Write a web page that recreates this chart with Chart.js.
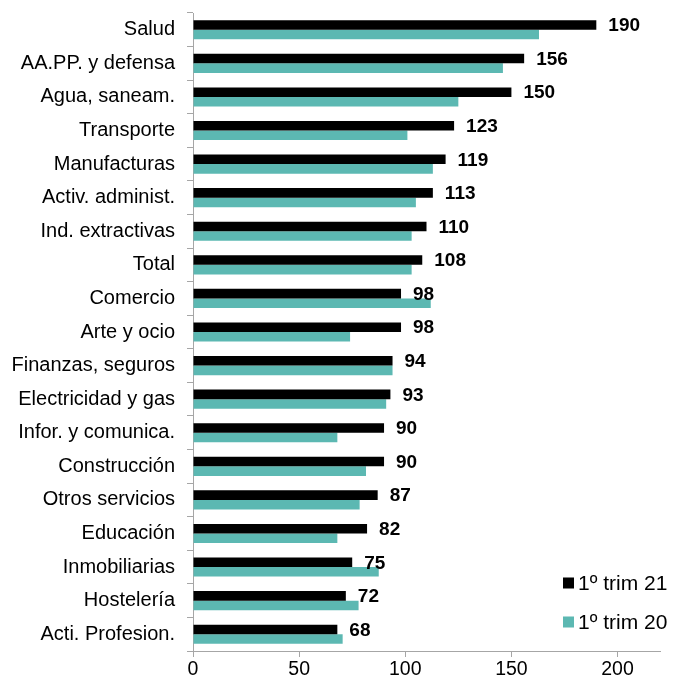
<!DOCTYPE html>
<html>
<head>
<meta charset="utf-8">
<script src="https://cdn.jsdelivr.net/npm/chart.js@4/dist/chart.umd.min.js"></script>
<style>
  html, body { margin: 0; padding: 0; background: #fff; }
  #wrap { width: 675px; height: 682px; }
</style>
</head>
<body>
<div id="wrap"><canvas id="c" width="675" height="682"></canvas></div>
<script>
const categories = ["Salud","AA.PP. y defensa","Agua, saneam.","Transporte","Manufacturas","Activ. administ.","Ind. extractivas","Total","Comercio","Arte y ocio","Finanzas, seguros","Electricidad y gas","Infor. y comunica.","Construcción","Otros servicios","Educación","Inmobiliarias","Hostelería","Acti. Profesion."];
const trim21 = [190,156,150,123,119,113,110,108,98,98,94,93,90,90,87,82,75,72,68];
const trim20 = [163,146,125,101,113,105,103,103,112,74,94,91,68,81.5,78.5,68,87.5,78,70.5];
const seriesLabels = ["1º trim 21","1º trim 20"];
const xTicks = [0,50,100,150,200];

const FONT = "'Liberation Sans', Arial, sans-serif";

const valueLabels = {
  id: 'valueLabels',
  afterDatasetsDraw(chart) {
    const ctx = chart.ctx;
    const meta = chart.getDatasetMeta(0);
    ctx.save();
    ctx.font = "bold 19px " + FONT;
    ctx.fillStyle = '#000';
    ctx.textAlign = 'left';
    ctx.textBaseline = 'middle';
    meta.data.forEach((bar, i) => {
      ctx.fillText(String(chart.data.datasets[0].data[i]), bar.x + 12, bar.y + 1);
    });
    ctx.restore();
  }
};

const customLegend = {
  id: 'customLegend',
  afterDraw(chart) {
    const ctx = chart.ctx;
    const a = chart.chartArea;
    ctx.save();
    ctx.font = "21px " + FONT;
    ctx.textBaseline = 'middle';
    ctx.textAlign = 'left';
    chart.data.datasets.forEach((ds, i) => {
      const cy = a.bottom - 68 + i * 39;
      const bx = a.right - 97;
      ctx.fillStyle = ds.backgroundColor;
      ctx.fillRect(bx, cy - 5.5, 11, 11);
      ctx.fillStyle = '#000';
      ctx.fillText(ds.label, bx + 15, cy + 1);
    });
    ctx.restore();
  }
};

new Chart(document.getElementById('c'), {
  type: 'bar',
  data: {
    labels: categories,
    datasets: [
      { label: seriesLabels[0], data: trim21, backgroundColor: '#000000',
        categoryPercentage: 0.57, barPercentage: 1.0 },
      { label: seriesLabels[1], data: trim20, backgroundColor: '#5cb8b2',
        categoryPercentage: 0.57, barPercentage: 1.0 }
    ]
  },
  options: {
    indexAxis: 'y',
    responsive: false,
    animation: false,
    devicePixelRatio: 1,
    layout: { padding: { top: 13, right: 15, left: 0, bottom: 0 } },
    plugins: { legend: { display: false }, tooltip: { enabled: false } },
    scales: {
      x: {
        min: 0, max: 220,
        afterFit(s) { s.height = 31; s.paddingLeft = 0; s.paddingRight = 0; },
        afterBuildTicks(s) { s.ticks = xTicks.map(v => ({ value: v })); },
        grid: { drawOnChartArea: false, drawTicks: true, tickLength: 6, color: '#a6a6a6' },
        border: { display: true, color: '#a6a6a6' },
        ticks: { color: '#000', padding: 1, font: { family: FONT, size: 19.5 } }
      },
      y: {
        afterFit(s) { s.width = 193; s.paddingTop = 0; s.paddingBottom = 0; },
        grid: { drawOnChartArea: false, drawTicks: true, tickLength: 6, color: '#a6a6a6', offset: true },
        border: { display: true, color: '#a6a6a6' },
        ticks: { color: '#000', padding: 12, autoSkip: false, font: { family: FONT, size: 20 } }
      }
    }
  },
  plugins: [valueLabels, customLegend]
});
</script>
</body>
</html>
